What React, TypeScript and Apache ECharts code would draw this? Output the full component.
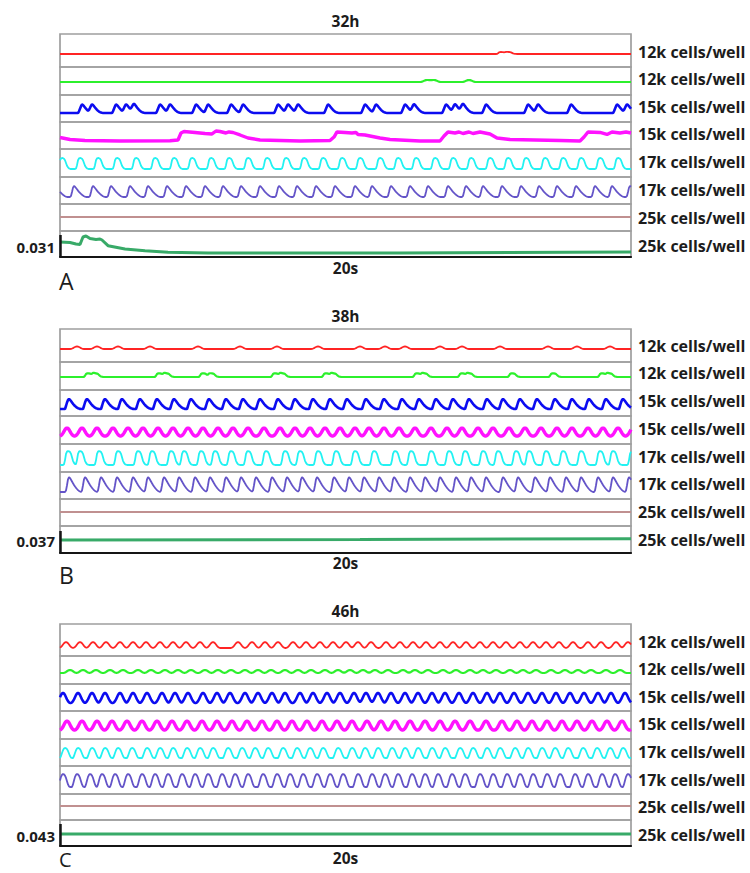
import React, { useEffect, useRef } from 'react';
import * as echarts from 'echarts';

// ---------------- DATA ----------------
// Time axis: frames across the 20 s recording window (frame 0 .. 571)
const FRAMES = 571;
const PANEL_TITLES = ['32h', '38h', '46h'];
const PANEL_LETTERS = ['A', 'B', 'C'];
const TIME_LABEL = '20s';
// Vertical scale bar per panel, in 10^-3 ΔF/F
const SCALE_BAR = [31, 37, 43];
const WELL_LABELS = [
  '12k cells/well', '12k cells/well', '15k cells/well', '15k cells/well',
  '17k cells/well', '17k cells/well', '25k cells/well', '25k cells/well',
];

// Normalised transient shapes (one sample per frame, peak = 1)
const SAW = [0.1, 0.45, 0.85, 1, 0.93, 0.82, 0.7, 0.58, 0.47, 0.37, 0.28, 0.2, 0.13, 0.07, 0.03, 0];
const PLATEAU = [0.05, 0.35, 0.8, 0.96, 1, 0.98, 0.93, 0.8, 0.55, 0.3, 0.15, 0.06, 0.02, 0];
const BUMP = [0, 0.2, 0.5, 0.8, 1, 0.93, 0.8, 0.65, 0.5, 0.37, 0.26, 0.17, 0.1, 0.05, 0.02, 0];
const WAVE = [0, 0.06, 0.18, 0.36, 0.58, 0.8, 0.95, 1, 0.95, 0.8, 0.58, 0.36, 0.18, 0.06, 0];
const ROUND = [0, 0.2, 0.5, 0.78, 0.94, 1, 0.97, 0.88, 0.7, 0.45, 0.2, 0.04, 0];
const SKEW = [0, 0.3, 0.65, 0.9, 1, 0.92, 0.8, 0.66, 0.52, 0.4, 0.3, 0.21, 0.14, 0.08, 0.04, 0.01, 0];

// ---- Panel A (32h): event frames / keypoints, amplitudes in 10^-3 ΔF/F
const A_RED_EVENTS = [441, 448];
const A_GREEN_EVENTS = [367, 374, 409];
const A_BLUE_PEAKS = [22, 32, 56, 66, 74, 100, 110, 136, 148, 171, 183, 218, 228, 238, 268, 305, 316, 345, 354, 386, 395, 403, 426, 468, 478, 511, 557, 567];
const A_MAGENTA_T = [0, 10, 25, 60, 110, 118, 121, 124, 135, 145, 152, 156, 160, 166, 169, 173, 180, 188, 200, 240, 270, 274, 277, 285, 292, 296, 298, 305, 320, 330, 360, 380, 384, 388, 395, 399, 403, 409, 413, 420, 425, 430, 437, 450, 500, 520, 524, 528, 540, 547, 552, 560, 566, 571];
const A_MAGENTA_V = [4.9, 2.1, 0.7, 0, 0.4, 1.4, 11.3, 13.4, 12.0, 10.6, 9.9, 14.1, 13.4, 11.3, 12.7, 12.0, 8.5, 4.2, 1.4, 0, 0.7, 5.6, 12.7, 12.0, 11.3, 12.0, 9.2, 8.5, 4.2, 2.1, 0, 0, 7.0, 12.7, 11.3, 12.7, 10.6, 12.7, 10.6, 12.7, 11.3, 9.9, 4.2, 2.1, 0.7, 0, 5.6, 12.7, 12.0, 9.2, 12.7, 11.3, 12.7, 11.3];
const A_CYAN_PEAKS = [2, 20, 38, 57, 76, 95, 114, 132, 151, 169, 188, 207, 226, 244, 263, 282, 300, 320, 338, 356, 375, 393, 411, 430, 448, 466, 485, 503, 521, 540, 558];
const A_PURPLE_PEAKS = [-5, 14, 33, 51, 70, 88, 107, 126, 145, 163, 181, 200, 219, 237, 256, 275, 295, 312, 331, 350, 368, 388, 406, 423, 442, 461, 479, 497, 516, 535, 552, 570];
const A_GREEN2_T = [0, 10, 16, 20, 23, 26, 30, 36, 40, 42, 48, 65, 85, 108, 148, 340, 571];
const A_GREEN2_V = [15.5, 14.8, 12.7, 12.0, 22.5, 24.0, 20.4, 19.0, 19.7, 18.3, 10.3, 5.6, 3.2, 1.0, 0, 0, 1.4];

// ---- Panel B (38h)
const B_RED_EVENTS = [17, 37, 58, 90, 138, 180, 217, 258, 300, 325, 345, 380, 402, 440, 488, 517, 550];
const B_GREEN_EVENTS = [28, 35, 99, 106, 143, 151, 215, 222, 266, 273, 357, 364, 402, 409, 452, 493, 542, 549];
const B_BLUE_PEAKS = [9, 27, 45, 62, 80, 97, 114, 131, 149, 166, 183, 200, 218, 235, 253, 270, 287, 306, 324, 342, 359, 376, 393, 409, 427, 443, 460, 477, 495, 512, 529, 546, 563];
const B_MAGENTA_PEAKS = [7, 22, 37, 53, 68, 83, 98, 113, 128, 143, 158, 173, 188, 204, 220, 235, 250, 265, 280, 295, 309, 324, 339, 355, 371, 387, 402, 418, 433, 449, 465, 481, 497, 512, 528, 543, 558, 573];
const B_CYAN_PEAKS = [8, 20, 39, 58, 78, 92, 111, 124, 141, 155, 171, 188, 206, 225, 240, 258, 276, 295, 314, 335, 351, 371, 389, 405, 423, 438, 456, 469, 486, 503, 521, 540, 553, 572];
const B_PURPLE_PEAKS = [9, 25, 41, 57, 73, 88, 104, 119, 135, 150, 166, 181, 196, 212, 227, 242, 257, 274, 289, 304, 319, 334, 350, 365, 380, 396, 411, 426, 443, 458, 475, 490, 506, 521, 538, 553, 569];
const B_GREEN2_T = [0, 300, 571];
const B_GREEN2_V = [0, 0.8, 2.2];

// ---- Panel C (46h)
const C_RED_PEAKS = [6, 20, 33, 46, 60, 73, 86, 100, 113, 126, 140, 153, 178, 192, 205, 218, 233, 246, 260, 273, 286, 298, 311, 326, 340, 353, 366, 380, 393, 406, 420, 433, 446, 460, 473, 486, 499, 513, 528, 541, 556, 568];
const C_GREEN_PEAKS = [10, 23, 36, 50, 63, 78, 91, 105, 118, 131, 145, 158, 171, 185, 198, 211, 225, 238, 251, 265, 278, 290, 303, 315, 328, 343, 355, 368, 383, 396, 410, 423, 436, 450, 463, 476, 491, 505, 518, 531, 546, 560];
const C_BLUE_PEAKS = [3, 18, 32, 45, 60, 73, 87, 102, 115, 128, 143, 157, 170, 185, 198, 212, 225, 240, 253, 267, 280, 294, 306, 318, 331, 345, 358, 372, 385, 399, 413, 427, 440, 454, 468, 482, 496, 510, 524, 538, 551, 565];
const C_MAGENTA_PEAKS = [7, 22, 37, 52, 67, 82, 97, 112, 127, 142, 157, 172, 187, 202, 217, 232, 247, 262, 277, 292, 307, 321, 335, 350, 365, 380, 395, 410, 426, 442, 457, 472, 487, 502, 517, 532, 547, 562, 577];
const C_CYAN_PEAKS = [5, 18, 32, 45, 58, 72, 87, 100, 113, 127, 140, 153, 168, 182, 195, 208, 223, 237, 250, 263, 278, 292, 305, 318, 332, 345, 358, 372, 385, 400, 413, 427, 440, 455, 468, 482, 495, 508, 523, 537, 550, 563, 577];
const C_PURPLE_PEAKS = [3, 17, 30, 42, 55, 68, 82, 95, 108, 122, 135, 148, 162, 175, 188, 203, 217, 230, 243, 257, 270, 283, 298, 312, 325, 338, 352, 365, 378, 392, 405, 420, 433, 447, 460, 473, 487, 500, 515, 528, 542, 555, 568];

// ---------------- LAYOUT / STYLE ----------------
const PLOT_LEFT = 60;
const PLOT_RIGHT = 631;
const STRIP_TOPS = [
  [34, 67, 95, 122, 149, 177, 204, 231],
  [329, 362, 390, 416, 444, 472, 499, 526],
  [624, 656, 684, 711, 739, 766, 794, 820],
];
const PANEL_BOTTOMS = [257, 553, 846];
// trace baseline height above each strip's bottom edge (px)
const BASE_OFFSETS = [
  [13, 13, 9, 8, 8, 7, 14, 4],
  [13, 13, 7, 8, 7, 7, 14, 13],
  [8, 11, 8, 9, 8, 7, 14, 12],
];
const SCALE_BAR_PX = 22;
const LABEL_Y = [
  [52, 79, 107, 134, 162, 190, 218, 246],
  [346, 373, 401, 429, 457, 484, 512, 540],
  [642, 669, 697, 724, 752, 780, 807, 835],
];
const TITLE_Y = [21, 316, 611];
const TIME_Y = [268, 563, 858];
const LETTER_Y = [281, 575, 859];
const LETTER_SIZE = [23, 23, 20];
const SCALE_LABEL_Y = [247, 541, 836];
const COLORS = ['#ff2424', '#2cf02c', '#0c0cf0', '#ff12ff', '#22f2f2', '#6454c8', '#c09090', '#38aa68'];
const LINE_WIDTHS = [1.8, 2.2, 2.6, 3.4, 1.8, 1.8, 1.9, 3];
const FONT = '"Open Sans", "DejaVu Sans", sans-serif';

type Trace =
  | { kind: 'pulse'; peaks: number[]; shape: number[]; amp: number }
  | { kind: 'keys'; t: number[]; v: number[] }
  | { kind: 'flat' };

const pulse = (peaks: number[], shape: number[], amp: number): Trace => ({ kind: 'pulse', peaks, shape, amp });
const keys = (t: number[], v: number[]): Trace => ({ kind: 'keys', t, v });
const flat: Trace = { kind: 'flat' };

const PANEL_TRACES: Trace[][] = [
  [
    pulse(A_RED_EVENTS, PLATEAU, 2.8),
    pulse(A_GREEN_EVENTS, WAVE, 2.8),
    pulse(A_BLUE_PEAKS, BUMP, 12.0),
    keys(A_MAGENTA_T, A_MAGENTA_V),
    pulse(A_CYAN_PEAKS, PLATEAU, 15.5),
    pulse(A_PURPLE_PEAKS, SAW, 15.5),
    flat,
    keys(A_GREEN2_T, A_GREEN2_V),
  ],
  [
    pulse(B_RED_EVENTS, WAVE, 4.2),
    pulse(B_GREEN_EVENTS, PLATEAU, 6.2),
    pulse(B_BLUE_PEAKS, SKEW, 16.8),
    pulse(B_MAGENTA_PEAKS, WAVE, 13.5),
    pulse(B_CYAN_PEAKS, PLATEAU, 23.5),
    pulse(B_PURPLE_PEAKS, SAW, 25.2),
    flat,
    keys(B_GREEN2_T, B_GREEN2_V),
  ],
  [
    pulse(C_RED_PEAKS, WAVE, 11.7),
    pulse(C_GREEN_PEAKS, WAVE, 5.9),
    pulse(C_BLUE_PEAKS, WAVE, 19.6),
    pulse(C_MAGENTA_PEAKS, WAVE, 17.6),
    pulse(C_CYAN_PEAKS, ROUND, 19.6),
    pulse(C_PURPLE_PEAKS, ROUND, 25.4),
    flat,
    flat,
  ],
];

function traceData(tr: Trace): number[][] {
  if (tr.kind === 'flat') return [[0, 0], [FRAMES, 0]];
  if (tr.kind === 'keys') return tr.t.map((t, i) => [t, tr.v[i]]);
  const lead = tr.shape.indexOf(1);
  const out: number[][] = [];
  for (let t = 0; t <= FRAMES; t++) {
    let v = 0;
    for (const p of tr.peaks) {
      const i = t - p + lead;
      if (i >= 0 && i < tr.shape.length) v += tr.shape[i];
    }
    out.push([t, Math.round(v * tr.amp * 100) / 100]);
  }
  return out;
}

function buildOption() {
  const grid: any[] = [];
  const xAxis: any[] = [];
  const yAxis: any[] = [];
  const series: any[] = [];
  const elements: any[] = [];
  const midX = (PLOT_LEFT + PLOT_RIGHT) / 2;

  PANEL_TRACES.forEach((traces, p) => {
    const pxUnit = SCALE_BAR[p] / SCALE_BAR_PX; // data units per pixel
    traces.forEach((tr, j) => {
      const idx = grid.length;
      const top = STRIP_TOPS[p][j];
      const bottom = j < 7 ? STRIP_TOPS[p][j + 1] : PANEL_BOTTOMS[p];
      const h = bottom - top;
      const ymin = -BASE_OFFSETS[p][j] * pxUnit;
      grid.push({
        left: PLOT_LEFT, top, width: PLOT_RIGHT - PLOT_LEFT, height: h,
        show: true, borderColor: '#9e9e9e', borderWidth: 1.7, containLabel: false,
      });
      const isBottom = j === 7;
      xAxis.push({
        type: 'value', gridIndex: idx, min: 0, max: FRAMES,
        show: isBottom,
        axisLine: { show: isBottom, onZero: false, lineStyle: { color: '#151515', width: 2.2 } },
        axisTick: { show: false }, axisLabel: { show: false }, splitLine: { show: false },
      });
      yAxis.push({
        type: 'value', gridIndex: idx, min: ymin, max: ymin + h * pxUnit,
        show: false, splitLine: { show: false },
      });
      const s: any = {
        type: 'line', xAxisIndex: idx, yAxisIndex: idx,
        data: traceData(tr), showSymbol: false, symbol: 'none', silent: true,
        lineStyle: { color: COLORS[j], width: LINE_WIDTHS[j] },
        clip: true,
      };
      if (isBottom) {
        s.markLine = {
          symbol: 'none', silent: true, animation: false,
          label: { show: false },
          lineStyle: { color: '#151515', width: 2.5, type: 'solid' },
          data: [[{ coord: [0, ymin] }, { coord: [0, ymin + SCALE_BAR[p]] }]],
        };
      }
      series.push(s);
      elements.push({
        type: 'text', x: 638, y: LABEL_Y[p][j],
        style: {
          text: WELL_LABELS[j], fill: '#1c1c1c', fontSize: 16, fontWeight: 'bold', fontFamily: FONT,
          textAlign: 'left', align: 'left', textVerticalAlign: 'middle', verticalAlign: 'middle',
        },
      });
    });
    const txt = (text: string, x: number, y: number, size: number, weight: string, align: string) => ({
      type: 'text', x, y,
      style: {
        text, fill: '#1c1c1c', fontSize: size, fontWeight: weight, fontFamily: FONT,
        textAlign: align, align, textVerticalAlign: 'middle', verticalAlign: 'middle',
      },
    });
    elements.push(txt(PANEL_TITLES[p], midX, TITLE_Y[p], 15.5, 'bold', 'center'));
    elements.push(txt(TIME_LABEL, midX, TIME_Y[p], 15.5, 'bold', 'center'));
    elements.push(txt(PANEL_LETTERS[p], 59, LETTER_Y[p], LETTER_SIZE[p], 'normal', 'left'));
    elements.push(txt((SCALE_BAR[p] / 1000).toFixed(3), 55, SCALE_LABEL_Y[p], 15, 'bold', 'right'));
  });

  return {
    animation: false,
    backgroundColor: '#ffffff',
    grid, xAxis, yAxis, series,
    graphic: { elements },
  };
}

export default function App() {
  const ref = useRef<HTMLDivElement>(null);
  useEffect(() => {
    if (!ref.current) return;
    const chart = echarts.init(ref.current, undefined, { renderer: 'svg' });
    chart.setOption(buildOption() as any);
    return () => chart.dispose();
  }, []);
  return (
    <div
      ref={ref}
      style={{ position: 'absolute', left: 0, top: 0, width: 750, height: 873, background: '#fff' }}
    />
  );
}
